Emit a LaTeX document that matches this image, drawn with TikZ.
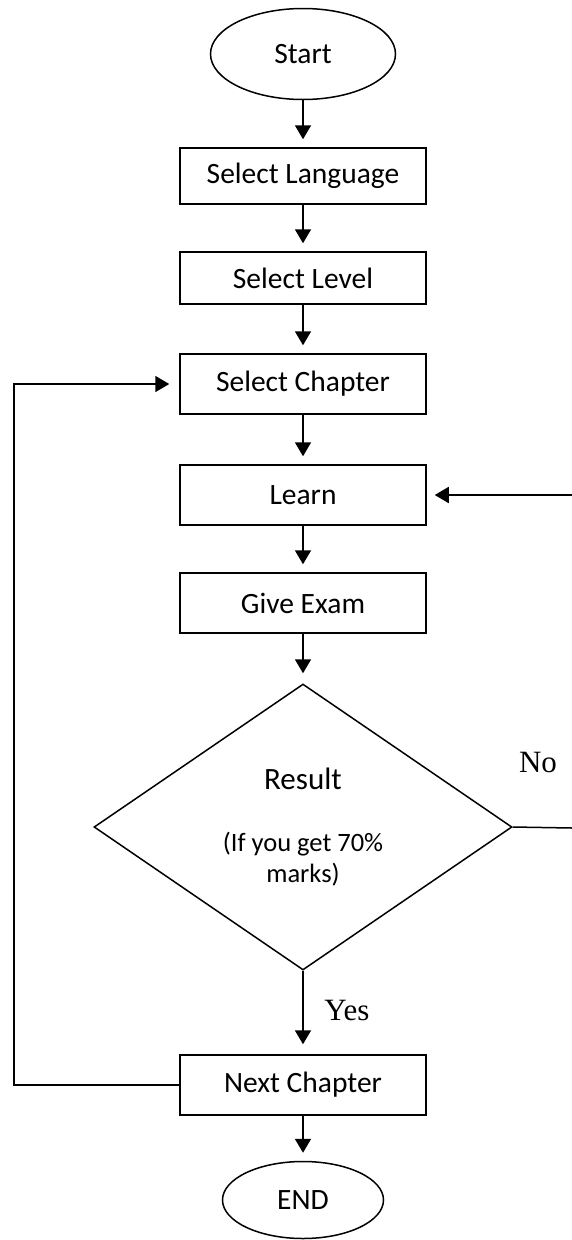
\documentclass[tikz,border=0pt]{standalone}
\usepackage{fontspec}
\setmainfont{Carlito}
\newfontfamily\answerfont{Liberation Serif}
\usetikzlibrary{arrows.meta,positioning,shapes.geometric}

\begin{document}
\begin{tikzpicture}[x=1pt, y=-1pt,
  stepbox/.style={draw, line width=1.5pt, minimum width=246pt, minimum height=58pt,
    inner sep=0pt, font=\fontsize{29.5}{35}\selectfont},
  terminal/.style={draw, ellipse, line width=1.5pt, inner sep=0pt,
    font=\fontsize{29.5}{35}\selectfont},
  flow/.style={line width=1.8pt, -{Triangle[width=16pt,length=14pt]}, shorten >=8pt},
  answer/.style={font=\answerfont\fontsize{31}{36}\selectfont}]
\useasboundingbox (0,0) rectangle (572,1240);
% Start
\node[terminal, minimum width=185pt, minimum height=91pt] (start) at (303,54) {Start};
% Steps
\node[stepbox, minimum height=56pt] (lang) at (303,176) {Select Language};
\node[stepbox, minimum height=52pt] (level) at (303,278) {Select Level};
\node[stepbox, minimum height=60pt] (chapter) at (303,384) {Select Chapter};
\node[stepbox, minimum height=60pt] (learn) at (303,495) {Learn};
\node[stepbox, minimum height=60pt] (exam) at (303,603) {Give Exam};
% Decision
\node[draw, diamond, line width=1.5pt, inner sep=0pt, minimum width=418pt, minimum height=286pt,
  align=center, font=\fontsize{26.5}{31}\selectfont] (result) at (303,827)
  {{\fontsize{31}{36}\selectfont Result}\\[31pt](If you get 70\%\\marks)};
\node[stepbox, minimum height=60pt] (next) at (303,1085) {Next Chapter};
% End
\node[terminal, minimum width=161pt, minimum height=77pt] (stop) at (303,1200) {END};
% Labels
\node[answer] (yes) at (347,1010) {Yes};
\node[answer] (no) at (538,762) {No};
% Free ends
\coordinate (loop) at (14,1085);
\coordinate (noend) at (572,828);
\coordinate (backin) at (572,495);
% Main flow
\draw[flow] (start) -- (lang);
\draw[flow] (lang) -- (level);
\draw[flow] (level) -- (chapter);
\draw[flow] (chapter) -- (learn);
\draw[flow] (learn) -- (exam);
\draw[flow, shorten >=10pt] (exam) -- (result);
\draw[flow, shorten >=10pt] (result) -- (next);
\draw[flow] (next) -- (stop);
% Back to next chapter
\draw[flow, shorten >=10pt] (next.west) -- (loop) |- (chapter.west);
% Fail: learn again
\draw[line width=1.5pt] (result.east) -- (noend);
\draw[flow] (backin) -- (learn.east);
\end{tikzpicture}
\end{document}
